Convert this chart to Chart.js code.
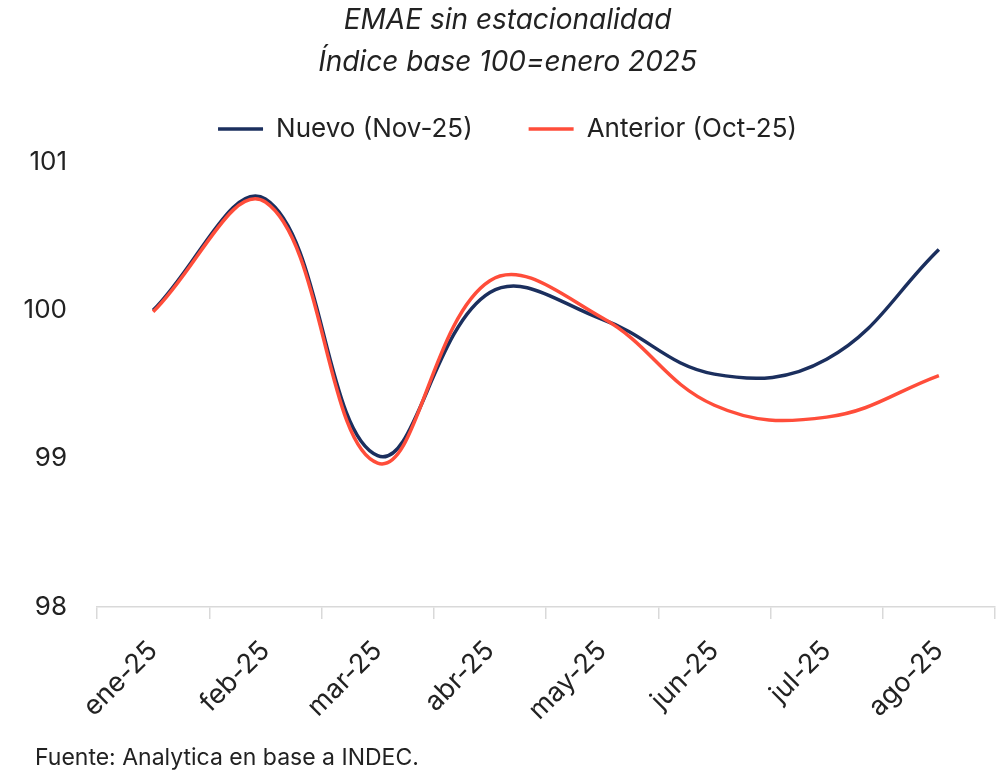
<!DOCTYPE html>
<html lang="es">
<head>
  <meta charset="UTF-8">
  <title>EMAE sin estacionalidad</title>
  <script src="https://cdn.jsdelivr.net/npm/chart.js"></script>
  <style>
    body { margin: 0; background: white; font-family: Inter, sans-serif; }
    #wrap { position: relative; width: 1000px; height: 777px; }
    #fuente { position: absolute; left: 35px; top: 743px; font-size: 23px; color: #222; }
  </style>
</head>
<body>

<div id="wrap">
  <canvas id="emae" width="1000" height="777"></canvas>
  <div id="fuente">Fuente: Analytica en base a INDEC.</div>
</div>

<script>
  // datos
  const meses = ["ene-25", "feb-25", "mar-25", "abr-25", "may-25", "jun-25", "jul-25", "ago-25"];
  const nuevo = [100.0, 100.75, 99.02, 100.12, 99.94, 99.57, 99.67, 100.41];
  const anterior = [99.99, 100.73, 98.97, 100.20, 99.95, 99.36, 99.28, 99.56];

  const FONT = "Inter, sans-serif";
  const TEXTO = "#222";

  // la leyenda usa un padding grande para separar los items,
  // aca se compensa la altura y la posicion vertical
  const SEP = 56, PAD = 19;
  const espacioLeyenda = {
    id: "espacioLeyenda",
    beforeLayout(chart) {
      const leg = chart.legend;
      if (leg && !leg._extra) {
        const fit = leg.fit;
        const draw = leg.draw;
        leg.fit = function () {
          fit.call(this);
          this.height = this.height - (SEP - PAD) + 10;
        };
        leg.draw = function (area) {
          const t = this.top;
          this.top = t - (SEP - PAD);
          draw.call(this, area);
          this.top = t;
        };
        leg._extra = true;
      }
    }
  };

  const ctx = document.getElementById("emae").getContext("2d");

  new Chart(ctx, {
    type: "line",
    data: {
      labels: meses,
      datasets: [
        {
          label: "Nuevo (Nov-25)",
          data: nuevo,
          borderColor: "#1b2f5e",
          backgroundColor: "#1b2f5e",
          borderWidth: 3.5,
          pointRadius: 0,
          tension: 0.4,
          order: 1
        },
        {
          label: "Anterior (Oct-25)",
          data: anterior,
          borderColor: "#ff4d3a",
          backgroundColor: "#ff4d3a",
          borderWidth: 3.5,
          pointRadius: 0,
          tension: 0.4,
          order: 0
        }
      ]
    },
    options: {
      responsive: false,
      animation: false,
      layout: { padding: { top: 0, right: 5, bottom: 0, left: 20 } },
      plugins: {
        tooltip: { enabled: false },
        title: {
          display: true,
          text: ["EMAE sin estacionalidad", "Índice base 100=enero 2025"],
          color: TEXTO,
          font: { family: FONT, size: 28, style: "italic", weight: "normal", lineHeight: 1.5 },
          padding: { top: 0, bottom: 13 }
        },
        legend: {
          position: "top",
          labels: {
            color: TEXTO,
            font: { family: FONT, size: 26 },
            usePointStyle: true,
            pointStyle: "line",
            pointStyleWidth: 45,
            padding: SEP,
            sort: (a, b) => a.datasetIndex - b.datasetIndex
          }
        }
      },
      scales: {
        x: {
          offset: true,
          grid: {
            display: true,
            offset: true,
            drawOnChartArea: false,
            drawTicks: true,
            tickLength: 12,
            color: "#d9d9d9",
            lineWidth: 1.5
          },
          border: { display: true, color: "#d9d9d9", width: 1.5 },
          ticks: {
            color: TEXTO,
            font: { family: FONT, size: 27 },
            minRotation: 45,
            maxRotation: 45,
            padding: 16
          },
          afterFit: function (scale) { scale.height = 170; }
        },
        y: {
          min: 98,
          max: 101,
          grid: { display: false, drawTicks: false },
          border: { display: false },
          ticks: {
            stepSize: 1,
            color: TEXTO,
            font: { family: FONT, size: 26 },
            padding: 30
          },
          afterFit: function (scale) { scale.width = 77; }
        }
      }
    },
    plugins: [espacioLeyenda]
  });
</script>

</body>
</html>
